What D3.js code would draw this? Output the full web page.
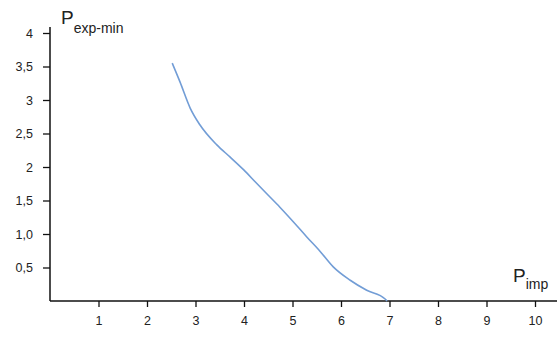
<!DOCTYPE html>
<html>
<head>
    <title>P exp-min vs P imp</title>
    <script src="https://d3js.org/d3.v7.min.js"></script>
    <style>
        body { margin: 0; background: #fff; }
        text { font-family: "Liberation Sans", Arial, sans-serif; fill: #222; }
    </style>
</head>
<body>
    <svg id="chart" width="557" height="338"></svg>

    <script>
    // data
    var xTicks = [1, 2, 3, 4, 5, 6, 7, 8, 9, 10];
    var yTicks = [0.5, 1, 1.5, 2, 2.5, 3, 3.5, 4];
    var yTickLabels = ["0,5", "1,0", "1,5", "2", "2,5", "3", "3,5", "4"];

    var pImp = [2.52, 2.68, 2.89, 3.09, 3.44, 3.71, 3.99, 4.23, 4.47, 4.74, 5.02, 5.29, 5.57, 5.84, 6.19, 6.53, 6.91, 6.95];
    var pExpMin = [3.55, 3.27, 2.88, 2.63, 2.33, 2.15, 1.96, 1.78, 1.6, 1.4, 1.18, 0.96, 0.74, 0.51, 0.31, 0.16, 0.03, 0];

    var svg = d3.select('#chart');

    var xScale = d3.scaleLinear().domain([0, 10]).range([50, 535]);
    var yScale = d3.scaleLinear().domain([0, 4]).range([301, 33]);

    // x axis
    var xAxis = svg.append('g')
        .attr('transform', 'translate(0, 301)')
        .call(d3.axisBottom(xScale).tickValues(xTicks).tickSize(6).tickPadding(9).tickSizeOuter(0));
    xAxis.select('.domain').remove();
    xAxis.selectAll('.tick line').attr('stroke', '#111').attr('stroke-width', 1.3);
    xAxis.selectAll('text').attr('font-size', 12.5).attr('fill', '#222');

    svg.append('line')
        .attr('x1', 50).attr('x2', 557)
        .attr('y1', 301).attr('y2', 301)
        .attr('stroke', '#111').attr('stroke-width', 1.5);

    // y axis
    var yAxis = svg.append('g')
        .attr('transform', 'translate(50, 0)')
        .call(d3.axisLeft(yScale).tickValues(yTicks).tickSize(7).tickPadding(10).tickSizeOuter(0)
            .tickFormat(function(d, i) { return yTickLabels[i]; }));
    yAxis.select('.domain').remove();
    yAxis.selectAll('.tick line').attr('stroke', '#111').attr('stroke-width', 1.3);
    yAxis.selectAll('text').attr('font-size', 12.5).attr('fill', '#222');

    svg.append('line')
        .attr('x1', 50).attr('x2', 50)
        .attr('y1', 27).attr('y2', 301)
        .attr('stroke', '#111').attr('stroke-width', 1.5);

    // axis titles
    var yTitle = svg.append('text').attr('x', 61).attr('y', 24);
    yTitle.append('tspan').attr('font-size', 19).text('P');
    yTitle.append('tspan').attr('font-size', 14).attr('dy', 9).text('exp-min');

    var xTitle = svg.append('text').attr('x', 513).attr('y', 282);
    xTitle.append('tspan').attr('font-size', 19).text('P');
    xTitle.append('tspan').attr('font-size', 14).attr('dy', 7).text('imp');

    // curve
    var line = d3.line()
        .x(function(d, i) { return xScale(pImp[i]); })
        .y(function(d) { return yScale(d); })
        .curve(d3.curveMonotoneX);

    svg.append('path')
        .datum(pExpMin)
        .attr('d', line)
        .attr('fill', 'none')
        .attr('stroke', '#729dd6')
        .attr('stroke-width', 1.6);
    </script>
</body>
</html>
